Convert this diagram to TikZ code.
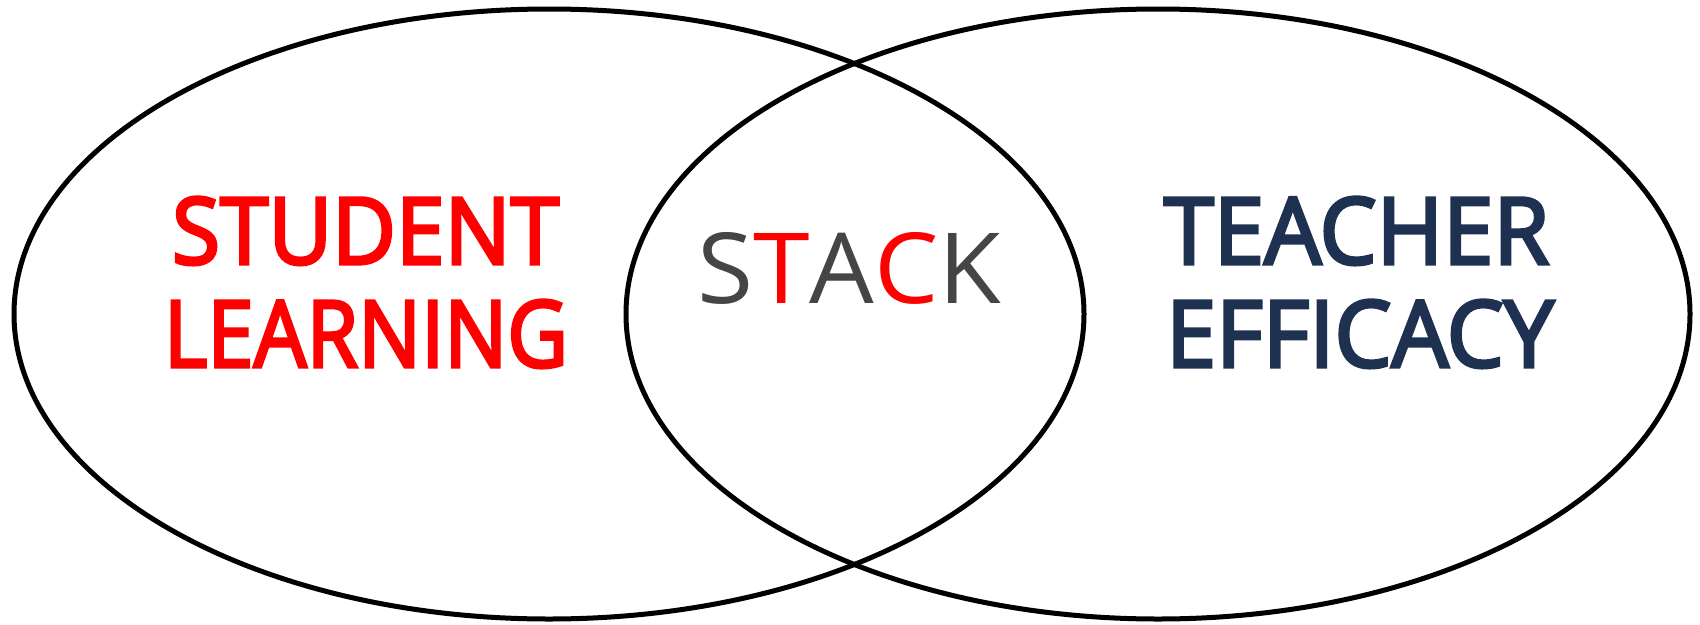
\documentclass[tikz,border=0pt]{standalone}
\usepackage{fontspec}
\setmainfont{Open Sans}
\newfontfamily\semib[FakeBold=3.5]{Open Sans}
\usetikzlibrary{shapes.geometric}
\definecolor{navy}{RGB}{31,49,80}
\definecolor{stackgray}{RGB}{69,69,69}
\definecolor{vred}{RGB}{255,0,0}
\tikzset{
  venn/.style={ellipse, draw=black, line width=5pt, inner sep=0pt, minimum height=610pt},
  lbl/.style={anchor=base west, inner sep=0pt, outer sep=0pt}
}
\begin{document}
\begin{tikzpicture}[x=1pt,y=-1pt]
\useasboundingbox (0,0) rectangle (1700,624);
\node[venn, minimum width=1070pt] (left) at (549,314) {};
\node[venn, minimum width=1064pt] (right) at (1158,314) {};
\node[lbl, text=vred] (sl1) at (172,264) {\resizebox{387pt}{67pt}{\semib STUDENT}};
\node[lbl, text=vred] (sl2) at (164,367) {\resizebox{404pt}{67pt}{\semib LEARNING}};
\node[lbl, text=navy] (te1) at (1164,264) {\resizebox{385pt}{67pt}{\semib TEACHER}};
\node[lbl, text=navy] (te2) at (1166,367) {\resizebox{388pt}{67pt}{\semib EFFICACY}};
\node[lbl] (stack) at (697,303) {\resizebox{304pt}{71pt}{\color{stackgray}S\color{vred}T\color{stackgray}A\color{vred}C\color{stackgray}K}};
\end{tikzpicture}
\end{document}
